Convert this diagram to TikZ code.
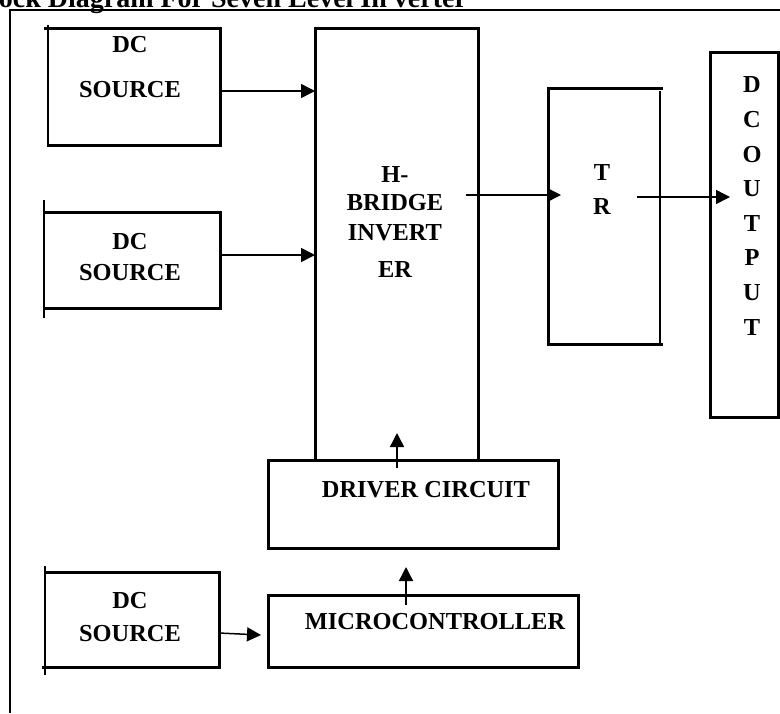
\documentclass[tikz,border=0pt]{standalone}
\usepackage{fontspec}
\setmainfont{Liberation Serif}
\usetikzlibrary{arrows.meta,calc,positioning}

\begin{document}
\begin{tikzpicture}[x=0.5pt, y=-0.5pt,
  blk/.style={inner sep=0pt, outer sep=0pt},
  lbl/.style={font=\fontsize{12.2}{14.5}\selectfont\bfseries, align=center, inner sep=0pt},
  edge/.style={line width=1.5pt},
  side/.style={line width=0.75pt},
  arr/.style={line width=0.75pt, -{Triangle[length=7pt,width=7pt]}}]
  \useasboundingbox (0,0) rectangle (780,713);
  % Title, cut by the top of the page
  \begin{scope}
    \clip (0,0) rectangle (780,713);
    \node[font=\fontsize{14}{16}\selectfont\bfseries, anchor=base west, inner sep=0pt] (title) at (-28,7) {Block Diagram For Seven Level In verter};
  \end{scope}
  % Frame
  \draw[line width=1pt] (10,713) -- (10,10) -- (780,10);
  % Blocks
  \node[blk, minimum width=86pt, minimum height=58.5pt] (src1) at (134,86.5) {};
  \node[blk, minimum width=88pt, minimum height=48pt] (src2) at (132,260) {};
  \node[blk, minimum width=87pt, minimum height=47.5pt] (src3) at (132,619.5) {};
  \node[blk, minimum width=81.5pt, minimum height=216pt] (hbridge) at (396.5,244) {};
  \node[blk, minimum width=145pt, minimum height=44pt] (driver) at (413,504) {};
  \node[blk, minimum width=155pt, minimum height=36pt] (micro) at (423,631) {};
  \node[blk, minimum width=56pt, minimum height=128pt] (tr) at (604,216) {};
  \node[blk, minimum width=34pt, minimum height=182.5pt] (dcout) at (744,234.5) {};
  % DC sources: thin left side, running past the box
  \draw[edge] ($(src1.north west)+(-4,0)$) -- (src1.north east) -- (src1.south east) -- (src1.south west);
  \draw[side] ($(src1.north west)+(0,-3)$) -- ($(src1.south west)+(0,2)$);
  \draw[edge] (src2.north west) -- (src2.north east) -- (src2.south east) -- (src2.south west);
  \draw[side] ($(src2.north west)+(0,-12)$) -- ($(src2.south west)+(0,10)$);
  \draw[edge] (src3.north west) -- (src3.north east) -- (src3.south east) -- ($(src3.south west)+(-3,0)$);
  \draw[side] ($(src3.north west)+(0,-6)$) -- ($(src3.south west)+(0,8)$);
  % Other blocks
  \draw[edge] (hbridge.north west) rectangle (hbridge.south east);
  \draw[edge] (driver.north west) rectangle (driver.south east);
  \draw[edge] (micro.north west) rectangle (micro.south east);
  \draw[edge] (dcout.north west) rectangle (dcout.south east);
  \draw[edge] ($(tr.north east)+(3,0)$) -- (tr.north west) -- (tr.south west) -- ($(tr.south east)+(3,0)$);
  \draw[side] ($(tr.north east)+(0,3)$) -- (tr.south east);
  % Labels
  \node[lbl] (src1txt) at (130,67) {DC\\[8pt]SOURCE};
  \node[lbl] (src2txt) at (130,257.5) {DC\\[1pt]SOURCE};
  \node[lbl] (src3txt) at (130,617) {DC\\[2pt]SOURCE};
  \node[lbl] (hbtxt) at (395,222) {H-\\[-0.5pt]BRIDGE\\[0.5pt]INVERT\\[4pt]ER};
  \node[lbl] (trtxt) at (602,190) {T\\[2.5pt]R};
  \node[lbl, font=\fontsize{12.2}{17.3}\selectfont\bfseries] (outtxt) at (752,206) {D\\C\\O\\U\\T\\P\\U\\T};
  \node[lbl] (drvtxt) at (426,490) {DRIVER CIRCUIT};
  \node[lbl] (mcutxt) at (435,622) {MICROCONTROLLER};
  % Arrows
  \coordinate (a1) at ($(src1.east)+(0,4.5)$);
  \coordinate (a2) at ($(src2.east)+(0,-5)$);
  \coordinate (a3) at ($(src3.east)+(0,13.5)$);
  \draw[arr] (a1) -- (a1 -| hbridge.west);
  \draw[arr] (a2) -- (a2 -| hbridge.west);
  \draw[arr] (a3) -- ($(micro.west)+(-7,4)$);
  \coordinate (hbout) at (466,195);
  \coordinate (trin) at (561,195);
  \draw[arr] (hbout) -- (trin);
  \coordinate (trout) at (637,197);
  \coordinate (outin) at (730,197);
  \draw[arr] (trout) -- (outin);
  \coordinate (mcuup) at (406,605);
  \coordinate (drvin) at (406,567);
  \draw[arr] (mcuup) -- (drvin);
  \coordinate (drvup) at (397,468);
  \coordinate (hbin) at (397,433);
  \draw[arr] (drvup) -- (hbin);
\end{tikzpicture}
\end{document}
